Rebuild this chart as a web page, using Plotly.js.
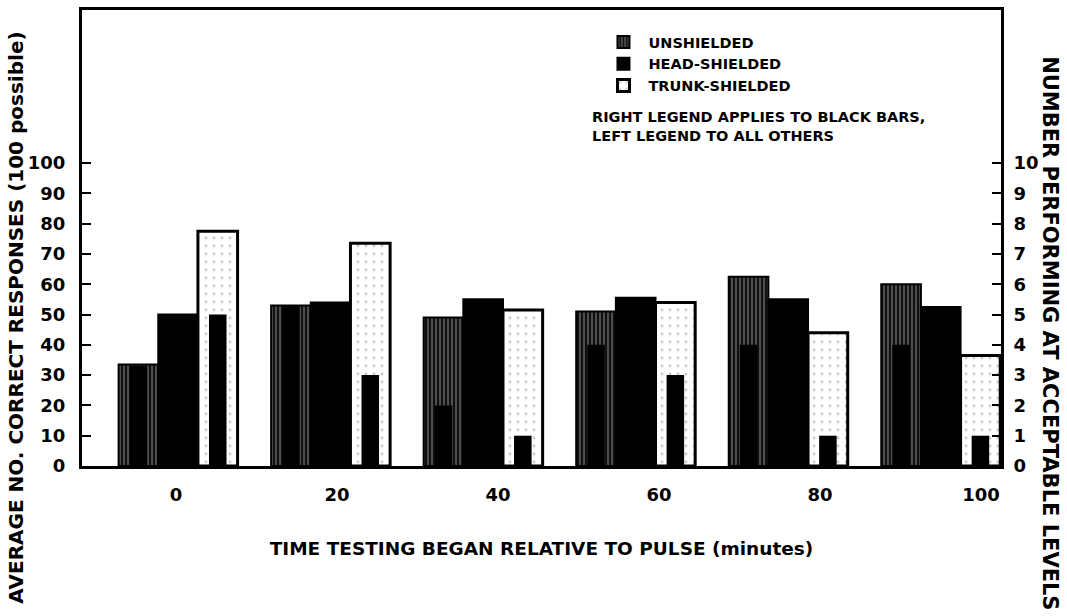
<!DOCTYPE html>
<html>
<head>
<meta charset="utf-8">
<script src="https://cdn.plot.ly/plotly-3.0.1.min.js"></script>
<style>html,body{margin:0;padding:0;background:#fff;}#chart{width:1067px;height:616px;}</style>
</head>
<body>
<div id="chart"></div>
<script>
// ---- data ----
const times = [0, 20, 40, 60, 80, 100];
const seriesNames = ["UNSHIELDED", "HEAD-SHIELDED", "TRUNK-SHIELDED"];
const unshielded = [33.5, 53, 49, 51, 62.5, 60];       // avg correct responses (left axis)
const headShielded = [50, 54, 55, 55.5, 55, 52.5];
const trunkShielded = [77.5, 73.5, 51.5, 54, 44, 36.5];
const unshieldedBlack = [3.3, 5.3, 2, 4, 4, 4];          // number performing (right axis)
const trunkBlack = [5, 3, 1, 3, 1, 1];
const leftTicks = [0, 10, 20, 30, 40, 50, 60, 70, 80, 90, 100];
const rightTicks = [0, 1, 2, 3, 4, 5, 6, 7, 8, 9, 10];
const noteLines = ["RIGHT LEGEND APPLIES TO BLACK BARS,", "LEFT LEGEND TO ALL OTHERS"];
const xTitle = "TIME TESTING BEGAN RELATIVE TO PULSE (minutes)";
const yTitle = "AVERAGE NO. CORRECT RESPONSES (100 possible)";
const y2Title = "NUMBER PERFORMING AT ACCEPTABLE LEVELS";

// ---- style ----
const FONT = "DejaVu Sans, sans-serif";
const W = 5.2;      // bar width (x units)
const BW = 2.3;     // black bar width

const traces = [
  {
    type: "bar", name: seriesNames[0], x: times, y: unshielded,
    width: W, offset: -1.5 * W,
    marker: {color: "#111", line: {color: "#000", width: 2},
             pattern: {shape: "|", bgcolor: "#111", fgcolor: "#8a8a8a", size: 4, solidity: 0.25}},
    hoverinfo: "x+y"
  },
  {
    type: "bar", name: seriesNames[1], x: times, y: headShielded,
    width: W, offset: -0.5 * W,
    marker: {color: "#000", line: {color: "#000", width: 2}},
    hoverinfo: "x+y"
  },
  {
    type: "bar", name: seriesNames[2], x: times, y: trunkShielded,
    width: W, offset: 0.5 * W,
    marker: {color: "#fff", line: {color: "#000", width: 3},
             pattern: {shape: ".", bgcolor: "#fff", fgcolor: "#c8c8c8", size: 8, solidity: 0.1}},
    hoverinfo: "x+y"
  },
  {
    type: "bar", name: "U black", x: times, y: unshieldedBlack, yaxis: "y2",
    width: BW, offset: -1.5 * W + (W - BW) / 2,
    marker: {color: "#000", line: {width: 0}}, showlegend: false, hoverinfo: "x+y"
  },
  {
    type: "bar", name: "T black", x: times, y: trunkBlack, yaxis: "y2",
    width: BW, offset: 0.5 * W + (W - BW) / 2,
    marker: {color: "#000", line: {width: 0}}, showlegend: false, hoverinfo: "x+y"
  },
  {
    type: "scatter", mode: "markers", x: times, y: times.map(() => null), xaxis: "x2",
    showlegend: false, hoverinfo: "skip"
  }
];

const tickFont = {family: FONT, size: 18, color: "#000", weight: "bold"};

const layout = {
  width: 1067, height: 616,
  margin: {l: 82, r: 66, t: 10, b: 150},
  paper_bgcolor: "#fff", plot_bgcolor: "#fff",
  barmode: "overlay",
  showlegend: true,
  legend: {
    x: 0.562, y: 0.965, xanchor: "left", yanchor: "top",
    font: {family: FONT, size: 14.5, color: "#000", weight: "bold"},
    bgcolor: "rgba(0,0,0,0)", tracegroupgap: 0, itemwidth: 40
  },
  xaxis: {
    range: [-12.6, 107.9], showticklabels: false, ticks: "",
    showline: true, linecolor: "#000", linewidth: 3, mirror: true,
    showgrid: false, zeroline: false, fixedrange: true
  },
  xaxis2: {
    overlaying: "x", anchor: "y", side: "bottom",
    range: [-11.68, 102.48], tickvals: times, ticktext: times.map(String),
    ticks: "", showline: false, showgrid: false, zeroline: false,
    tickfont: tickFont, ticklabelstandoff: 16,
    title: {text: xTitle, font: {family: FONT, size: 18.5, color: "#000", weight: "bold"}, standoff: 38}
  },
  yaxis: {
    range: [0, 150.5], tickvals: leftTicks, ticktext: leftTicks.map(String),
    ticks: "inside", ticklen: 9, tickwidth: 2, tickcolor: "#000",
    showline: true, linecolor: "#000", linewidth: 3,
    showgrid: false, zeroline: false, tickfont: tickFont, ticklabelstandoff: 10
  },
  yaxis2: {
    overlaying: "y", side: "right", anchor: "x",
    range: [0, 15.05], tickvals: rightTicks, ticktext: rightTicks.map(String),
    ticks: "inside", ticklen: 9, tickwidth: 2, tickcolor: "#000",
    showline: true, linecolor: "#000", linewidth: 3,
    showgrid: false, zeroline: false, tickfont: tickFont, ticklabelstandoff: 6
  },
  annotations: [
    {
      xref: "paper", yref: "paper", x: 0.553, y: 0.745, xanchor: "left", yanchor: "middle",
      text: noteLines.join("<br>"), showarrow: false, align: "left",
      font: {family: FONT, size: 14.5, color: "#000", weight: "bold"}
    },
    {
      xref: "paper", yref: "paper", x: -0.072, y: 0.325, xanchor: "center", yanchor: "middle",
      text: yTitle, textangle: -90, showarrow: false,
      font: {family: FONT, size: 20, color: "#000", weight: "bold"}
    },
    {
      xref: "paper", yref: "paper", x: 1.053, y: 0.292, xanchor: "center", yanchor: "middle",
      text: y2Title, textangle: 90, showarrow: false,
      font: {family: FONT, size: 21, color: "#000", weight: "bold"}
    }
  ]
};

Plotly.newPlot("chart", traces, layout, {displayModeBar: false, staticPlot: true});
</script>
</body>
</html>
